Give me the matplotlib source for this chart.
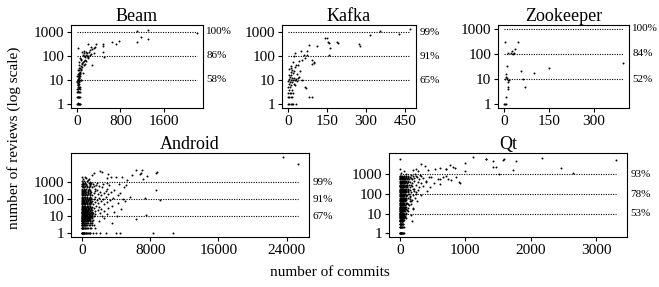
import matplotlib
matplotlib.use("Agg")
import matplotlib.pyplot as plt
from matplotlib.ticker import NullLocator

plt.rcParams['font.family'] = 'serif'
plt.rcParams['font.serif'] = ['Liberation Serif', 'DejaVu Serif']

# reference lines and the share of developers under each line
line_levels = [10, 100, 1000]
ytick_vals = [1, 10, 100, 1000]

# (commits, reviews)
beam_points = [
    (2215, 900), (1310, 1150), (1110, 1050), (1310, 510), (1185, 580), (1110, 360),
    (775, 430), (714, 320), (653, 390), (476, 320), (476, 245), (476, 150), (490, 90),
    (24, 220), (206, 316), (256, 230), (342, 316), (305, 210), (232, 180), (183, 130),
    (134, 130), (104, 110), (165, 110), (256, 117), (317, 130), (146, 88), (196, 80),
    (268, 40), (73, 68), (104, 53), (134, 42), (73, 36), (42, 26), (61, 19), (42, 12),
    (73, 10), (24, 7.3), (42, 4.5), (18, 3.3), (18, 1.07),
    (120, 60), (90, 45), (150, 70), (200, 95), (220, 150), (280, 190), (330, 240),
    (60, 30), (50, 22), (35, 16), (80, 25), (100, 35), (110, 20), (30, 9), (45, 8),
    (20, 6), (10, 5), (50, 5), (25, 4), (60, 4), (5, 3), (35, 3), (55, 3), (0, 2),
    (15, 2), (30, 2), (45, 2), (60, 2), (0, 1), (10, 1), (20, 1), (30, 1), (40, 1),
    (50, 1), (60, 1), (5, 4), (15, 6), (40, 12), (25, 14), (55, 17), (35, 20), (65, 28),
    (45, 32), (85, 50), (70, 75), (120, 95), (160, 150), (190, 100), (240, 105),
    (95, 140), (130, 160), (210, 85), (175, 60), (150, 45), (80, 10), (12, 10), (8, 8),
    (20, 11), (30, 13), (3, 9), (12, 7), (28, 5), (8, 15), (20, 18), (15, 25), (28, 40),
    (40, 55), (55, 80), (10, 3), (25, 2), (45, 10), (60, 14), (35, 7),
]
beam_pct = ['58%', '86%', '100%']

kafka_points = [
    (470, 1420), (427, 880), (354, 1100), (316, 750), (277, 270), (191, 360), (156, 340),
    (144, 550), (160, 210), (110, 260), (156, 110), (150, 590), (153, 390), (188, 390),
    (275, 310), (80, 280), (51, 160), (74, 115), (93, 72), (99, 52), (67, 85),
    (74, 160), (61, 110), (99, 57), (93, 47), (55, 72), (38, 44), (42, 61), (23, 99),
    (27, 138), (10, 32), (16, 27), (23, 23), (13, 16), (27, 37), (33, 18), (42, 14),
    (55, 10.3), (70, 4.5), (80, 2), (93, 2), (67, 5.4),
    (5, 30), (12, 22), (18, 19), (2, 17), (8, 14), (15, 12), (22, 12), (30, 11),
    (4, 11), (10, 10), (18, 10), (26, 10), (35, 9), (0, 9), (7, 8), (14, 8), (21, 7),
    (3, 7), (11, 6), (25, 6), (0, 5), (8, 5), (16, 4), (4, 4), (12, 3), (0, 3),
    (6, 3), (20, 3), (0, 2), (5, 2), (10, 2), (15, 2), (0, 1), (5, 1), (10, 1),
    (15, 1), (20, 1), (30, 1), (40, 12), (45, 25), (30, 45), (20, 55), (12, 40),
]
kafka_pct = ['65%', '91%', '99%']

zookeeper_points = [
    (4, 310), (46, 310), (37, 155), (33, 113), (23, 107), (30, 98), (14, 113), (27, 135),
    (10, 34), (7, 16), (10, 10.7), (14, 9), (17, 9), (4, 10), (57, 21), (101, 18),
    (149, 28), (65, 10), (70, 5), (12, 5), (15, 4), (8, 2), (0, 1), (4, 1), (8, 1),
    (398, 42), (12, 8), (6, 12),
]
zookeeper_pct = ['52%', '84%', '100%']

# dense part: review level -> commits of the developers at that level
blob_levels = [1, 2, 3, 4, 5, 6, 7, 8, 9, 10, 11, 13, 15, 17, 20, 23, 27, 31, 36, 42,
               49, 57, 66, 77, 90, 105, 120, 140, 165, 190, 220, 260, 300, 350, 410,
               480, 560, 650, 760, 880]
android_commits = [
    [0, 20, 60, 120, 200, 300, 450, 600, 800, 1000, 1300, 1700, 2100, 2800, 3960, 4430, 8360, 10640],
    [0, 30, 90, 180, 320, 500, 750, 1100, 1500],
    [10, 50, 140, 260, 420, 650, 950, 1400],
    [0, 70, 200, 380, 600, 900, 1250, 3500],
    [20, 110, 240, 480, 760, 1150, 2000],
    [5, 90, 300, 550, 850, 1300],
    [40, 160, 350, 640, 1000, 6290],
    [0, 120, 270, 500, 780, 1200, 2600],
    [60, 210, 420, 700, 1050],
    [10, 150, 330, 580, 900, 1400, 2400, 4100],
    [80, 250, 480, 800, 1150, 7540],
    [0, 190, 400, 680, 1000, 1600, 3000],
    [50, 280, 560, 900, 1300, 2100],
    [20, 140, 360, 650, 1050, 3800],
    [90, 300, 600, 950, 1500, 2600],
    [0, 200, 450, 780, 1200, 1900],
    [60, 330, 700, 1100, 2300, 4600],
    [30, 240, 520, 880, 1400, 3100],
    [110, 380, 750, 1200, 2000],
    [0, 260, 560, 950, 1700, 3500],
    [70, 400, 820, 1300, 2600],
    [30, 220, 600, 1050, 1900, 4200],
    [130, 450, 900, 1500, 2900],
    [10, 300, 700, 1200, 2200, 5000],
    [80, 500, 1000, 1800, 3300, 9130],
    [40, 350, 800, 1400, 2500, 4800],
    [150, 600, 1100, 2000, 3700, 7380],
    [20, 400, 900, 1600, 2800, 5600],
    [100, 650, 1200, 2300, 4200],
    [50, 450, 1000, 1900, 3100],
    [180, 700, 1400, 2600, 4500],
    [30, 500, 1100, 2100, 3400],
    [120, 750, 1500, 2800],
    [60, 400, 1000, 1800, 3800, 8740],
    [200, 800, 1600, 3000],
    [90, 550, 1200, 2400, 4900],
    [30, 650, 1400, 2000],
    [150, 900, 1700, 3200, 5200],
    [50, 500, 1300, 2500, 4300],
    [100, 800, 1800, 2900],
]
android_core = [
    [10, 40, 80, 150, 250, 350, 520, 700, 900],
    [5, 50, 130, 230, 400, 600, 900],
    [0, 30, 90, 200, 340, 540, 800, 1150],
    [20, 110, 290, 480, 720, 1050],
    [0, 60, 170, 350, 600, 950],
    [30, 150, 230, 420, 700, 1000],
    [0, 90, 250, 480, 820],
    [50, 190, 380, 640, 950],
    [0, 120, 300, 560, 850, 1200],
    [60, 240, 460, 740, 1100],
    [0, 160, 360, 620, 980],
    [90, 290, 520, 820, 1200],
    [0, 150, 400, 700, 1050],
    [70, 250, 500, 800, 1200],
    [0, 180, 420, 750],
    [100, 320, 600, 950],
    [0, 180, 450, 850],
    [120, 380, 680, 1100],
    [0, 230, 550, 900],
    [120, 400, 750],
    [0, 230, 600, 1000],
    [110, 420, 800],
    [0, 280, 650, 1100],
    [150, 480, 950],
    [0, 250, 700],
    [180, 550, 1100],
    [0, 350, 800],
    [200, 650],
    [0, 350, 900],
    [220, 700],
    [0, 400, 1000],
    [250, 750],
    [0, 400, 1000],
    [200, 700],
    [0, 450],
    [250, 800],
    [0, 350, 1000],
    [450],
    [0, 250, 900],
    [400, 1100],
]
android_extra = [
    (23500, 30000), (25330, 11000), (8740, 3600), (8750, 3800), (6880, 3300), (6300, 5200),
    (5910, 2600), (5330, 1300), (4740, 2100), (3380, 2100), (2990, 1660), (2130, 4600),
    (1440, 3300), (400, 2000), (800, 1600), (7000, 5200), (6800, 2900), (7600, 2300),
    (7200, 1450), (4000, 2000), (3100, 2800), (2400, 3800), (1200, 2600), (600, 1200),
    (0, 1100), (300, 1200), (700, 1300), (100, 1500), (500, 1700), (0, 1900), (900, 1000),
]
android_pct = ['67%', '91%', '99%']

qt_commits = [
    [0, 5, 10, 15, 20, 30, 45],
    [0, 8, 15, 25, 40],
    [3, 12, 22, 35, 55],
    [0, 10, 20, 32, 50, 180],
    [5, 15, 28, 45, 70],
    [0, 12, 25, 40, 60],
    [8, 18, 35, 55, 85],
    [2, 14, 30, 48, 75],
    [6, 20, 38, 62],
    [0, 10, 25, 45, 70, 100],
    [4, 16, 33, 55, 90],
    [0, 12, 28, 50, 80, 130],
    [7, 22, 40, 65, 110],
    [2, 15, 35, 58, 95],
    [10, 26, 48, 75, 120, 200],
    [0, 18, 38, 62, 100],
    [5, 24, 45, 80, 140],
    [12, 32, 55, 90, 170],
    [0, 20, 42, 70, 110],
    [8, 28, 52, 85, 150, 260],
    [3, 18, 40, 65, 100, 190],
    [12, 34, 60, 95, 160],
    [0, 22, 48, 80, 130, 230],
    [6, 30, 55, 90, 150],
    [15, 40, 70, 110, 200, 330],
    [2, 25, 52, 85, 140, 250],
    [10, 35, 65, 100, 170],
    [0, 20, 48, 80, 130, 220, 420],
    [8, 30, 60, 100, 160, 280],
    [15, 42, 75, 120, 210],
    [3, 25, 55, 95, 150, 300],
    [10, 38, 70, 115, 190, 360],
    [0, 22, 50, 90, 140, 240],
    [12, 35, 68, 110, 180, 320, 520],
    [5, 28, 60, 100, 160, 280],
    [15, 45, 80, 130, 220, 400],
    [0, 30, 65, 110, 180, 300, 620],
    [10, 40, 75, 125, 210, 350],
    [20, 55, 95, 160, 260, 450],
    [5, 35, 70, 120, 200, 330, 700],
]
qt_core = [
    [2, 12, 25, 38, 52, 65],
    [4, 20, 32, 50, 60],
    [0, 8, 17, 28, 45],
    [5, 15, 26, 40],
    [0, 10, 22, 35, 55],
    [6, 18, 32, 48],
    [0, 12, 25, 44],
    [8, 22, 38, 60],
    [0, 12, 28, 48],
    [5, 18, 35, 58],
    [0, 10, 24, 42],
    [6, 20, 38, 65],
    [0, 14, 30, 52],
    [8, 25, 45, 75],
    [0, 16, 36, 60],
    [8, 28, 48, 80],
    [0, 14, 34, 60],
    [4, 22, 42, 70],
    [10, 30, 55, 90],
    [0, 18, 40, 68],
    [10, 30, 52, 80],
    [0, 22, 45, 75],
    [12, 35, 62, 100],
    [0, 18, 42, 70],
    [8, 28, 55, 90],
    [0, 15, 38, 65],
    [5, 22, 50, 80, 130],
    [10, 32, 62, 100],
    [0, 18, 42, 75, 120],
    [5, 28, 55, 90],
    [12, 38, 70, 110],
    [0, 22, 50, 85],
    [8, 35, 65, 110, 170],
    [0, 22, 48, 85],
    [12, 40, 75, 120],
    [0, 28, 58, 95],
    [10, 42, 80, 140],
    [0, 25, 55, 100, 170],
    [8, 38, 70, 130],
    [0, 25, 60, 100, 240],
]
qt_extra = [
    (1116, 7900), (1320, 6000), (1420, 5000), (1573, 5700), (1776, 5000), (2166, 6500),
    (3307, 5300), (2460, 2100), (2653, 1230), (1725, 1650), (1522, 1090), (1420, 2400),
    (1000, 3800), (913, 355), (811, 2400), (710, 2000), (5, 6000), (330, 3560),
    (380, 2700), (254, 1960), (203, 1600), (279, 1450), (228, 1080), (178, 890),
    (304, 970), (431, 1600), (533, 1960), (609, 2150), (711, 1960), (761, 2940),
    (837, 2150), (989, 1450), (1319, 6000), (1472, 2400), (1598, 5900), (482, 720),
    (583, 600), (659, 720), (735, 600), (786, 490), (609, 330), (406, 400), (457, 220),
    (862, 720), (903, 390), (203, 180), (254, 120), (152, 67), (178, 45), (127, 30),
    (203, 17), (178, 9), (102, 6), (20, 1200), (60, 1500), (10, 2000), (90, 1100),
]
qt_pct = ['53%', '78%', '93%']


def expand(levels, *commit_tables):
    pts = []
    for table in commit_tables:
        for lev, cs in zip(levels, table):
            for c in cs:
                pts.append((c, lev))
    return pts


android_points = expand(blob_levels, android_commits, android_core) + android_extra
qt_points = expand(blob_levels, qt_commits, qt_core) + qt_extra

W, H = 659, 287
fig = plt.figure(figsize=(W / 100, H / 100), dpi=100)

panels = [
    ('Beam', beam_points, beam_pct, [0, 800, 1600], (0.68, 1900), (71, 25, 132, 83)),
    ('Kafka', kafka_points, kafka_pct, [0, 150, 300, 450], (0.69, 2000), (282, 25, 134, 83)),
    ('Zookeeper', zookeeper_points, zookeeper_pct, [0, 150, 300], (0.71, 1420), (498, 25, 131, 83)),
    ('Android', android_points, android_pct, [0, 8000, 16000, 24000], (0.6, 50000), (71, 153, 238, 84)),
    ('Qt', qt_points, qt_pct, [0, 1000, 2000, 3000], (0.64, 12400), (389, 153, 238, 84)),
]

for name, pts, pct, xt, yl, (px, py, pw, ph) in panels:
    ax = fig.add_axes([px / W, 1 - (py + ph) / H, pw / W, ph / H])
    xs = [p[0] for p in pts]
    ys = [p[1] for p in pts]
    ax.set_yscale('log')
    ax.scatter(xs, ys, s=2.0, c='black', linewidths=0)
    ax.hlines(line_levels, 0, max(xs), colors='black', linestyles=(0, (1, 1.2)), lw=0.8)
    for lev, txt in zip(line_levels, pct):
        ax.annotate(txt, xy=(1, lev), xycoords=ax.get_yaxis_transform(),
                    xytext=(2.5, 0), textcoords='offset points',
                    ha='left', va='center', fontsize=8)
    ax.set_ylim(*yl)
    ax.set_yticks(ytick_vals, [str(v) for v in ytick_vals])
    ax.yaxis.set_minor_locator(NullLocator())
    ax.set_xticks(xt)
    ax.tick_params(labelsize=11, length=3, width=0.8, pad=2)
    ax.set_title(name, fontsize=13, pad=3)
    for sp in ax.spines.values():
        sp.set_linewidth(0.8)

fig.text(0.022, 0.52, 'number of reviews (log scale)', rotation=90,
         ha='center', va='center', fontsize=11)
fig.text(0.5, 0.05, 'number of commits', ha='center', va='center', fontsize=11)

fig.savefig('out.png', dpi=100)
